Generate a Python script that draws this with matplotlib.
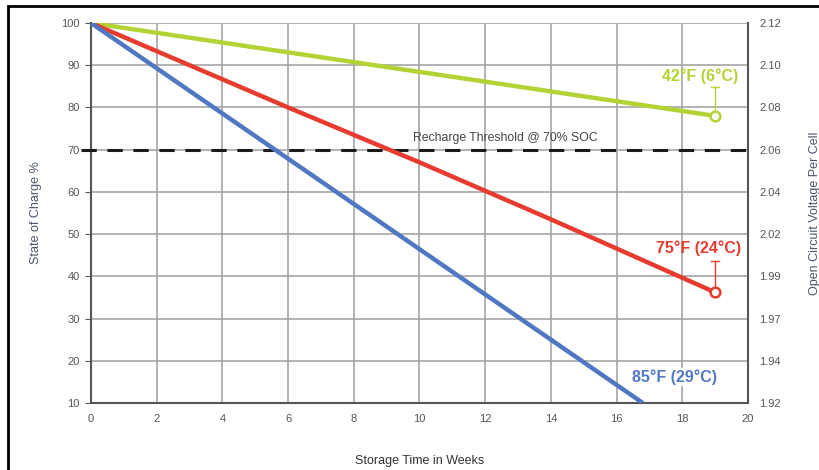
import matplotlib
matplotlib.use("Agg")
import matplotlib.pyplot as plt
from matplotlib.patches import Rectangle

plt.rcParams['font.family'] = ['Liberation Sans', 'DejaVu Sans']

# Data
weeks_42F = [0, 19]
soc_42F = [100, 78]
weeks_75F = [0, 6, 10, 14, 19]
soc_75F = [100, 80, 67, 53.5, 36.2]
weeks_85F = [0, 16.8]
soc_85F = [100, 10]

threshold = 70
left_ticks = [10, 20, 30, 40, 50, 60, 70, 80, 90, 100]
right_labels = ["1.92", "1.94", "1.97", "1.99", "2.02", "2.04", "2.06", "2.08", "2.10", "2.12"]
x_ticks = [0, 2, 4, 6, 8, 10, 12, 14, 16, 18, 20]

green = "#b3d335"
red = "#e63b2e"
blue = "#4f77c2"
tick_col = "#555555"

fig = plt.figure(figsize=(8.2, 4.7), dpi=100)
fig.patches.append(Rectangle((8/820, -0.05), 1.1, 1 - 6/470 + 0.05, transform=fig.transFigure,
                             fill=False, edgecolor="black", linewidth=2))

ax = fig.add_axes([91/820, 67/470, (748-91)/820, (403-23)/470])
ax.set_xlim(0, 20)
ax.set_ylim(10, 100)
ax.set_xticks(x_ticks)
ax.set_yticks(left_ticks)
ax.grid(True, color="#a5a5a5", linewidth=1.2)
ax.set_axisbelow(True)
ax.spines["top"].set_visible(False)
for s in ["left", "bottom", "right"]:
    ax.spines[s].set_color("#555555")
    ax.spines[s].set_linewidth(1.5)
ax.tick_params(axis="x", length=0, labelsize=8, labelcolor=tick_col, pad=8)
ax.tick_params(axis="y", length=4, color="#555555", labelsize=8, labelcolor=tick_col, pad=4)

ax.axhline(threshold, xmin=-0.015, xmax=1.01, color="#1a1a1a", linewidth=2.2,
           dashes=(5, 3.5), clip_on=False, zorder=3)
ax.text(12.6, 72.8, "Recharge Threshold @ 70% SOC", fontsize=8.8,
        color="#444444", ha="center", va="center", zorder=4)

ax.plot(weeks_42F, soc_42F, color=green, linewidth=3.2, solid_capstyle="butt", zorder=5)
ax.plot(weeks_75F, soc_75F, color=red, linewidth=3.2, solid_capstyle="butt", zorder=5)
ax.plot(weeks_85F, soc_85F, color=blue, linewidth=3.2, solid_capstyle="butt", zorder=5)

ax.plot([weeks_42F[-1]], [soc_42F[-1]], marker="o", markersize=7, markerfacecolor="white",
        markeredgecolor=green, markeredgewidth=1.8, zorder=6)
ax.plot([weeks_75F[-1]], [soc_75F[-1]], marker="o", markersize=7, markerfacecolor="white",
        markeredgecolor=red, markeredgewidth=1.8, zorder=6)

# leader lines
ax.plot([19, 19], [soc_42F[-1] + 1, 84.9], color=green, linewidth=1, zorder=5)
ax.plot([18.88, 19.12], [84.9, 84.9], color=green, linewidth=1, zorder=5)
ax.plot([19, 19], [soc_75F[-1] + 1, 43.6], color=red, linewidth=1, zorder=5)
ax.plot([18.88, 19.12], [43.6, 43.6], color=red, linewidth=1, zorder=5)

ax.text(18.54, 87.5, "42°F (6°C)", color=green, fontsize=11.5, fontweight="bold",
        ha="center", va="center", zorder=7)
ax.text(18.48, 46.7, "75°F (24°C)", color=red, fontsize=11.5, fontweight="bold",
        ha="center", va="center", zorder=7)
ax.text(17.75, 16.2, "85°F (29°C)", color=blue, fontsize=11.5, fontweight="bold",
        ha="center", va="center", zorder=7,
        bbox=dict(facecolor="white", edgecolor="none", pad=1))

ax.set_xlabel("Storage Time in Weeks", fontsize=9, color="#333333", labelpad=22)
ax.set_ylabel("State of Charge %", fontsize=9, color="#4a5568", labelpad=14)

ax2 = ax.twinx()
ax2.set_ylim(10, 100)
ax2.set_yticks(left_ticks)
ax2.set_yticklabels(right_labels)
ax2.tick_params(axis="y", length=0, labelsize=8, labelcolor=tick_col, pad=8)
for s in ax2.spines.values():
    s.set_visible(False)
ax2.set_ylabel("Open Circuit Voltage Per Cell", fontsize=9, color="#4a5568", labelpad=20)

fig.savefig("out.png", dpi=100)
